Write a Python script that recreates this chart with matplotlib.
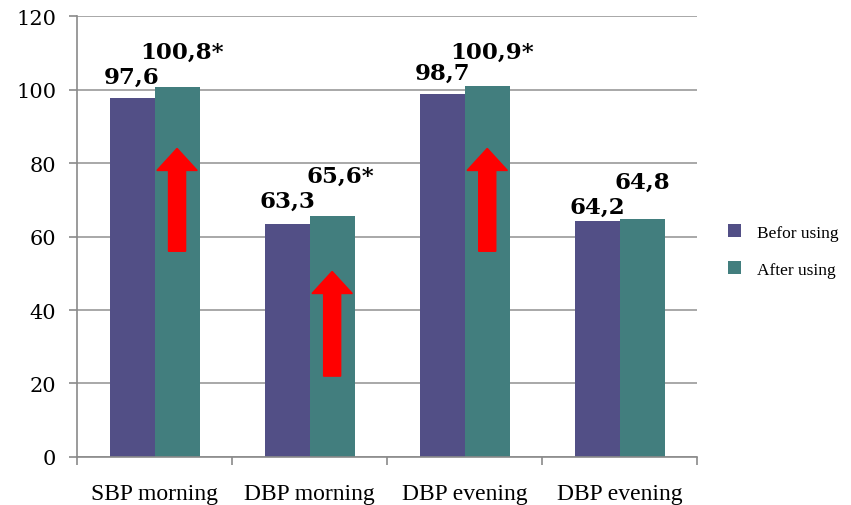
import matplotlib
matplotlib.use("Agg")
import matplotlib.pyplot as plt
from matplotlib.patches import FancyArrow
import numpy as np

categories = ["SBP morning", "DBP morning", "DBP evening", "DBP evening"]
before = [97.6, 63.3, 98.7, 64.2]
after = [100.8, 65.6, 100.9, 64.8]
before_labels = ["97,6", "63,3", "98,7", "64,2"]
after_labels = ["100,8*", "65,6*", "100,9*", "64,8"]
series_names = ["Befor using", "After using"]
yticks = [0, 20, 40, 60, 80, 100, 120]
# arrows: (category index, tail value, head value)
arrows = [(0, 56, 84), (1, 22, 50.5), (2, 56, 84)]

c_before = "#524F86"
c_after = "#427E7E"

fig = plt.figure(figsize=(8.51, 5.06), dpi=100)
ax = fig.add_axes([0.0905, 0.095, 0.729, 0.871])

x = np.arange(len(categories))
w = 0.29
ax.bar(x - w/2, before, w, color=c_before, label=series_names[0], zorder=2)
ax.bar(x + w/2, after, w, color=c_after, label=series_names[1], zorder=2)

lab_font = dict(family="DejaVu Serif", fontweight="bold", fontsize=16.5)
before_dy = [6.0, 6.5, 6.0, 4.0]
after_dx = [0.03, 0.05, 0.03, 0.0]
after_dy = [9.5, 11.0, 9.5, 10.0]
for i in range(len(categories)):
    ax.text(x[i] - w/2, before[i] + before_dy[i], before_labels[i],
            ha="center", va="center", **lab_font)
    ax.text(x[i] + w/2 + after_dx[i], after[i] + after_dy[i],
            after_labels[i], ha="center", va="center", **lab_font)

for ci, t, h in arrows:
    ax.add_patch(FancyArrow(x[ci] + w/2, t, 0, h - t, width=0.11, head_width=0.26,
                            head_length=6, length_includes_head=True,
                            color="#FF0000", zorder=3))

ax.set_xlim(-0.5, 3.5)
ax.set_ylim(0, 120)
ax.set_yticks(yticks)
ax.set_yticklabels([str(v) for v in yticks], family="DejaVu Serif", fontsize=15)
ax.yaxis.grid(True, color="#9A9A9A", linewidth=1.2, zorder=0)
ax.set_axisbelow(True)
ax.set_xticks(x)
ax.set_xticklabels(categories, family="Liberation Serif", fontsize=17)
ax.set_xticks(np.arange(-0.5, 4.0, 1.0), minor=True)
ax.tick_params(axis="x", which="major", length=0, pad=19)
ax.tick_params(axis="x", which="minor", length=6, color="#8A8A8A", width=1.2)
ax.tick_params(axis="y", length=6, color="#8A8A8A", width=1.2, pad=9)
for s in ["top", "right"]:
    ax.spines[s].set_visible(False)
for s in ["left", "bottom"]:
    ax.spines[s].set_color("#8A8A8A")
    ax.spines[s].set_linewidth(1.2)

fig.legend(loc="center left", bbox_to_anchor=(0.856, 0.502), frameon=False,
           borderpad=0, borderaxespad=0,
           prop={"family": "Liberation Serif", "size": 12.5}, handlelength=0.75,
           handleheight=0.75, labelspacing=1.2, handletextpad=0.9)

fig.savefig("out.png", dpi=100)
